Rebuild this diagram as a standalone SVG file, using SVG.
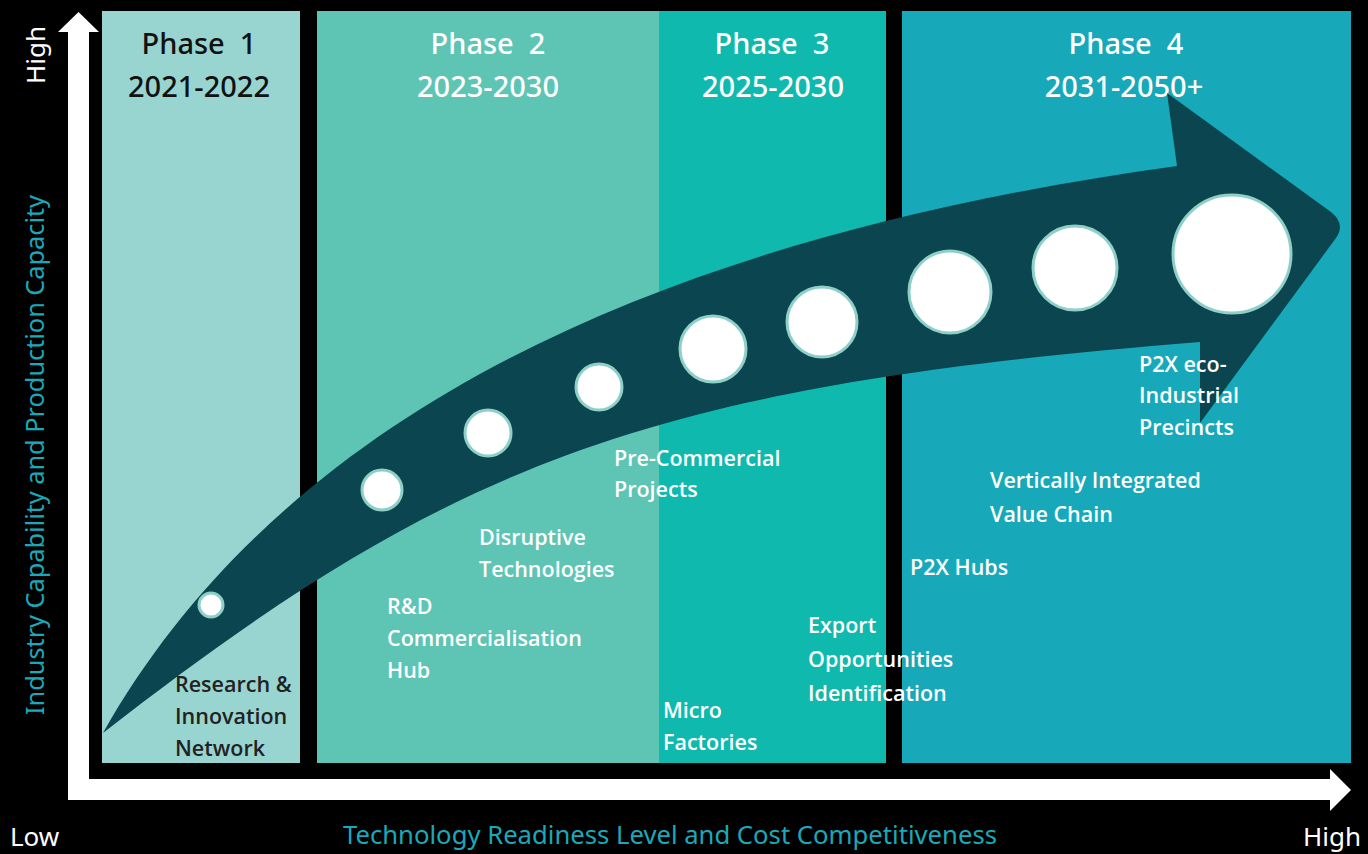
<svg xmlns="http://www.w3.org/2000/svg" width="1368" height="854" viewBox="0 0 1368 854">
<style>
.hdr{font-family:"Noto Sans","Open Sans","DejaVu Sans",sans-serif;font-size:29px;font-weight:500;text-anchor:middle;fill:#ffffff;white-space:pre}
.hdr.dark{fill:#111111}
.lbl{font-family:"Open Sans","Noto Sans","DejaVu Sans",sans-serif;font-size:21.5px;font-weight:600;fill:#ffffff}
.lbl.dark{fill:#222222}
.ms{fill:#ffffff;stroke:#8ED0C8;stroke-width:3}
.ax{font-family:"Noto Sans","Open Sans","DejaVu Sans",sans-serif;font-size:26px;fill:#ffffff}
.axt{font-family:"Noto Sans","Open Sans","DejaVu Sans",sans-serif;font-size:25px;fill:#1AA9B9;text-anchor:middle}
</style>
<rect x="0" y="0" width="1368" height="854" fill="#000000"/>

<g id="phase-panels">
<rect x="102" y="11" width="198" height="752" fill="#98D5D0"/>
<rect x="317" y="11" width="342" height="752" fill="#5EC4B4"/>
<rect x="659" y="11" width="227" height="752" fill="#10B9AD"/>
<rect x="902" y="11" width="449" height="752" fill="#17A9B9"/>
</g>

<g id="phase-headers">
<text class="hdr dark" x="199" y="54" xml:space="preserve">Phase  1</text>
<text class="hdr dark" x="199" y="97">2021-2022</text>
<text class="hdr" x="488" y="54" xml:space="preserve">Phase  2</text>
<text class="hdr" x="488" y="97">2023-2030</text>
<text class="hdr" x="772" y="54" xml:space="preserve">Phase  3</text>
<text class="hdr" x="773" y="97">2025-2030</text>
<text class="hdr" x="1126" y="54" xml:space="preserve">Phase  4</text>
<text class="hdr" x="1124" y="97">2031-2050+</text>
</g>

<g id="axes">
<polygon fill="#ffffff" points="68,32 58,32 78.5,12 99,32 89,32 89,779 1330,779 1330,769 1351,790 1330,811 1330,800 68,800"/>
<text class="ax" transform="translate(45,55) rotate(-90)" text-anchor="middle" font-size="27">High</text>
<text class="axt" transform="translate(44,455) rotate(-90)" font-size="23" textLength="520" lengthAdjust="spacingAndGlyphs">Industry Capability and Production Capacity</text>
<text class="ax" x="10" y="846">Low</text>
<text class="ax" x="1361" y="846" text-anchor="end">High</text>
<text class="axt" x="670" y="844" textLength="654" lengthAdjust="spacingAndGlyphs">Technology Readiness Level and Cost Competitiveness</text>
</g>

<g id="connectors">
<path id="progress-arrow" fill="#0B4550" d="M103,733 C303,379 727,228 1177,166 L1167,93 L1331,212 Q1346,224 1336,238 L1200,423 L1200,342 C650,386 453,460 103,733 Z"/>
</g>

<g id="m1"><circle class="ms" cx="211" cy="605" r="12"/>
<text class="lbl dark" x="175"><tspan x="175" y="692">Research &amp;</tspan><tspan x="175" y="724">Innovation</tspan><tspan x="175" y="756">Network</tspan></text></g>
<g id="m2"><circle class="ms" cx="382" cy="490" r="20"/>
<text class="lbl" x="387"><tspan x="387" y="614">R&amp;D</tspan><tspan x="387" y="646">Commercialisation</tspan><tspan x="387" y="678">Hub</tspan></text></g>
<g id="m3"><circle class="ms" cx="488" cy="433" r="23"/>
<text class="lbl" x="479"><tspan x="479" y="545">Disruptive</tspan><tspan x="479" y="577">Technologies</tspan></text></g>
<g id="m4"><circle class="ms" cx="599" cy="387" r="23"/>
<text class="lbl" x="614"><tspan x="614" y="466">Pre-Commercial</tspan><tspan x="614" y="497">Projects</tspan></text></g>
<g id="m5"><circle class="ms" cx="713" cy="349" r="33"/>
<text class="lbl" x="663"><tspan x="663" y="718">Micro</tspan><tspan x="663" y="750">Factories</tspan></text></g>
<g id="m6"><circle class="ms" cx="822" cy="322" r="35"/>
<text class="lbl" x="808"><tspan x="808" y="633">Export</tspan><tspan x="808" y="667">Opportunities</tspan><tspan x="808" y="701">Identiﬁcation</tspan></text></g>
<g id="m7"><circle class="ms" cx="950" cy="292" r="41"/>
<text class="lbl" x="910" y="575">P2X Hubs</text></g>
<g id="m8"><circle class="ms" cx="1075" cy="268" r="42"/>
<text class="lbl" x="990"><tspan x="990" y="488">Vertically Integrated</tspan><tspan x="990" y="522">Value Chain</tspan></text></g>
<g id="m9"><circle class="ms" cx="1232" cy="254" r="59"/>
<text class="lbl" x="1139"><tspan x="1139" y="372">P2X eco-</tspan><tspan x="1139" y="403">Industrial</tspan><tspan x="1139" y="435">Precincts</tspan></text></g>
</svg>
